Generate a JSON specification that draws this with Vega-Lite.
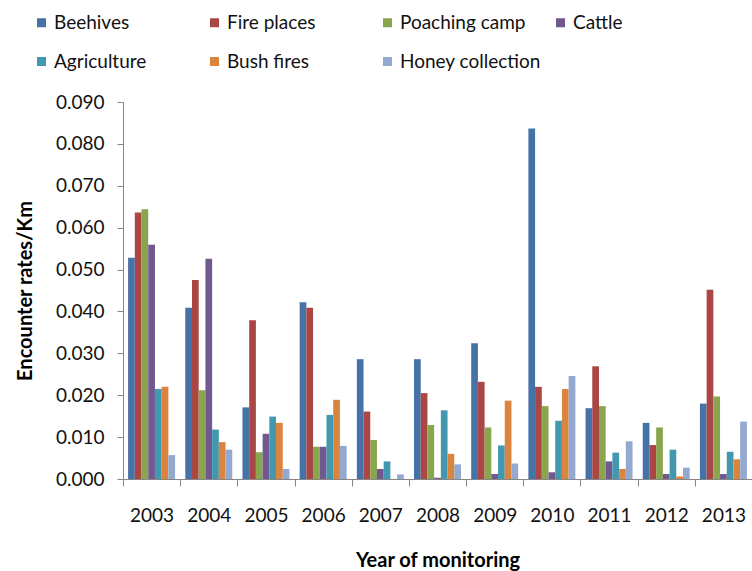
{
  "$schema": "https://vega.github.io/schema/vega-lite/v6.json",
  "width": 629,
  "height": 377,
  "autosize": {"type": "none"},
  "padding": {"left": 123, "top": 102, "right": 0, "bottom": 92},
  "background": "white",
  "config": {"view": {"stroke": null}, "font": "Lato"},
  "data": {
    "values": [
      {"year": "2003", "cat": "Beehives", "v": 0.0528},
      {"year": "2003", "cat": "Fire places", "v": 0.0636},
      {"year": "2003", "cat": "Poaching camp", "v": 0.0644},
      {"year": "2003", "cat": "Cattle", "v": 0.0559},
      {"year": "2003", "cat": "Agriculture", "v": 0.0215},
      {"year": "2003", "cat": "Bush fires", "v": 0.0220},
      {"year": "2003", "cat": "Honey collection", "v": 0.0057},
      {"year": "2004", "cat": "Beehives", "v": 0.0409},
      {"year": "2004", "cat": "Fire places", "v": 0.0475},
      {"year": "2004", "cat": "Poaching camp", "v": 0.0212},
      {"year": "2004", "cat": "Cattle", "v": 0.0526},
      {"year": "2004", "cat": "Agriculture", "v": 0.0118},
      {"year": "2004", "cat": "Bush fires", "v": 0.0088},
      {"year": "2004", "cat": "Honey collection", "v": 0.0070},
      {"year": "2005", "cat": "Beehives", "v": 0.0171},
      {"year": "2005", "cat": "Fire places", "v": 0.0379},
      {"year": "2005", "cat": "Poaching camp", "v": 0.0064},
      {"year": "2005", "cat": "Cattle", "v": 0.0108},
      {"year": "2005", "cat": "Agriculture", "v": 0.0149},
      {"year": "2005", "cat": "Bush fires", "v": 0.0134},
      {"year": "2005", "cat": "Honey collection", "v": 0.0024},
      {"year": "2006", "cat": "Beehives", "v": 0.0422},
      {"year": "2006", "cat": "Fire places", "v": 0.0409},
      {"year": "2006", "cat": "Poaching camp", "v": 0.0077},
      {"year": "2006", "cat": "Cattle", "v": 0.0077},
      {"year": "2006", "cat": "Agriculture", "v": 0.0153},
      {"year": "2006", "cat": "Bush fires", "v": 0.0189},
      {"year": "2006", "cat": "Honey collection", "v": 0.0079},
      {"year": "2007", "cat": "Beehives", "v": 0.0286},
      {"year": "2007", "cat": "Fire places", "v": 0.0161},
      {"year": "2007", "cat": "Poaching camp", "v": 0.0093},
      {"year": "2007", "cat": "Cattle", "v": 0.0024},
      {"year": "2007", "cat": "Agriculture", "v": 0.0042},
      {"year": "2007", "cat": "Bush fires", "v": 0.0},
      {"year": "2007", "cat": "Honey collection", "v": 0.0011},
      {"year": "2008", "cat": "Beehives", "v": 0.0286},
      {"year": "2008", "cat": "Fire places", "v": 0.0205},
      {"year": "2008", "cat": "Poaching camp", "v": 0.0129},
      {"year": "2008", "cat": "Cattle", "v": 0.0003},
      {"year": "2008", "cat": "Agriculture", "v": 0.0164},
      {"year": "2008", "cat": "Bush fires", "v": 0.0060},
      {"year": "2008", "cat": "Honey collection", "v": 0.0035},
      {"year": "2009", "cat": "Beehives", "v": 0.0324},
      {"year": "2009", "cat": "Fire places", "v": 0.0232},
      {"year": "2009", "cat": "Poaching camp", "v": 0.0123},
      {"year": "2009", "cat": "Cattle", "v": 0.0012},
      {"year": "2009", "cat": "Agriculture", "v": 0.0080},
      {"year": "2009", "cat": "Bush fires", "v": 0.0187},
      {"year": "2009", "cat": "Honey collection", "v": 0.0037},
      {"year": "2010", "cat": "Beehives", "v": 0.0837},
      {"year": "2010", "cat": "Fire places", "v": 0.0220},
      {"year": "2010", "cat": "Poaching camp", "v": 0.0174},
      {"year": "2010", "cat": "Cattle", "v": 0.0016},
      {"year": "2010", "cat": "Agriculture", "v": 0.0139},
      {"year": "2010", "cat": "Bush fires", "v": 0.0215},
      {"year": "2010", "cat": "Honey collection", "v": 0.0246},
      {"year": "2011", "cat": "Beehives", "v": 0.0169},
      {"year": "2011", "cat": "Fire places", "v": 0.0269},
      {"year": "2011", "cat": "Poaching camp", "v": 0.0174},
      {"year": "2011", "cat": "Cattle", "v": 0.0042},
      {"year": "2011", "cat": "Agriculture", "v": 0.0063},
      {"year": "2011", "cat": "Bush fires", "v": 0.0024},
      {"year": "2011", "cat": "Honey collection", "v": 0.0090},
      {"year": "2012", "cat": "Beehives", "v": 0.0134},
      {"year": "2012", "cat": "Fire places", "v": 0.0081},
      {"year": "2012", "cat": "Poaching camp", "v": 0.0123},
      {"year": "2012", "cat": "Cattle", "v": 0.0012},
      {"year": "2012", "cat": "Agriculture", "v": 0.0070},
      {"year": "2012", "cat": "Bush fires", "v": 0.0006},
      {"year": "2012", "cat": "Honey collection", "v": 0.0027},
      {"year": "2013", "cat": "Beehives", "v": 0.0180},
      {"year": "2013", "cat": "Fire places", "v": 0.0452},
      {"year": "2013", "cat": "Poaching camp", "v": 0.0197},
      {"year": "2013", "cat": "Cattle", "v": 0.0012},
      {"year": "2013", "cat": "Agriculture", "v": 0.0065},
      {"year": "2013", "cat": "Bush fires", "v": 0.0047},
      {"year": "2013", "cat": "Honey collection", "v": 0.0137}
    ]
  },
  "mark": {"type": "bar"},
  "encoding": {
    "x": {
      "field": "year",
      "type": "nominal",
      "scale": {"paddingInner": 0, "paddingOuter": 0},
      "axis": {
        "title": "Year of monitoring",
        "labelAngle": 0,
        "tickBand": "extent",
        "tickSize": 7,
        "tickColor": "#868686",
        "domainColor": "#868686",
        "labelFontSize": 19,
        "labelColor": "#111111",
        "labelPadding": 20,
        "titleFontSize": 20,
        "titleFontWeight": "bold",
        "titleColor": "#000000",
        "titlePadding": 25
      }
    },
    "xOffset": {
      "field": "cat",
      "type": "nominal",
      "sort": ["Beehives", "Fire places", "Poaching camp", "Cattle", "Agriculture", "Bush fires", "Honey collection"],
      "scale": {"paddingInner": 0, "paddingOuter": 0.76}
    },
    "y": {
      "field": "v",
      "type": "quantitative",
      "scale": {"domain": [0, 0.09], "nice": false},
      "axis": {
        "title": "Encounter rates/Km",
        "values": [0, 0.01, 0.02, 0.03, 0.04, 0.05, 0.06, 0.07, 0.08, 0.09],
        "format": ".3f",
        "grid": false,
        "tickSize": 6,
        "tickColor": "#868686",
        "domainColor": "#868686",
        "labelFontSize": 19,
        "labelColor": "#111111",
        "labelPadding": 13,
        "titleFontSize": 20,
        "titleFontWeight": "bold",
        "titleColor": "#000000",
        "titlePadding": 20
      }
    },
    "color": {
      "field": "cat",
      "type": "nominal",
      "scale": {
        "domain": ["Beehives", "Fire places", "Poaching camp", "Cattle", "Agriculture", "Bush fires", "Honey collection"],
        "range": ["#4572A7", "#AA4643", "#89A54E", "#71588F", "#4198AF", "#DB843D", "#93A9CF"]
      },
      "legend": {
        "title": null,
        "orient": "none",
        "direction": "horizontal",
        "legendX": -91,
        "legendY": -89,
        "columns": 4,
        "gridAlign": "all",
        "symbolType": "square",
        "symbolSize": 81,
        "symbolStrokeWidth": 0,
        "labelFontSize": 19,
        "labelColor": "#111111",
        "labelOffset": 3,
        "columnPadding": 10,
        "rowPadding": 19
      }
    }
  }
}
